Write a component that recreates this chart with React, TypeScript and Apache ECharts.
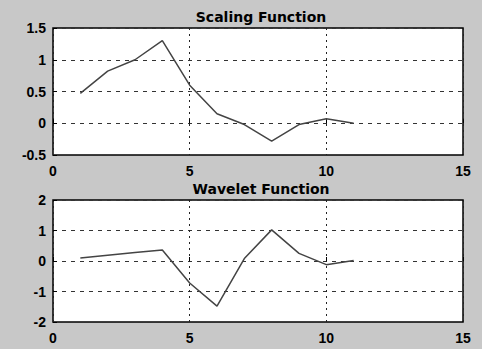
import React, { useEffect, useRef } from "react";
import * as echarts from "echarts";

const xValues = [1, 2, 3, 4, 5, 6, 7, 8, 9, 10, 11];
const scalingValues = [0.47, 0.82, 1.0, 1.3, 0.6, 0.15, -0.02, -0.28, -0.02, 0.07, 0.0];
const waveletValues = [0.1, 0.19, 0.28, 0.36, -0.72, -1.48, 0.08, 1.02, 0.25, -0.12, 0.02];
const titles = ["Scaling Function", "Wavelet Function"];

const font = "'Liberation Sans', Arial, sans-serif";
const titleFont = "'DejaVu Sans', sans-serif";

export default function App() {
  const ref = useRef<HTMLDivElement>(null);
  useEffect(() => {
    document.body.style.margin = "0";
    const chart = echarts.init(ref.current!, null, { renderer: "svg" });
    const xAxisBase = (gridIndex: number) => ({
      type: "value",
      gridIndex,
      min: 0,
      max: 15,
      interval: 5,
      axisLine: { show: false },
      axisTick: { show: true, inside: true, length: 4, lineStyle: { color: "#000" } },
      axisLabel: { color: "#000", fontFamily: font, fontWeight: "bold", fontSize: 14, margin: 9 },
      splitLine: { show: true, lineStyle: { color: "#222", type: [2, 4], width: 1 } },
    });
    const yAxisBase = (gridIndex: number, min: number, max: number, interval: number) => ({
      type: "value",
      gridIndex,
      min,
      max,
      interval,
      axisLine: { show: false },
      axisTick: { show: true, inside: true, length: 4, lineStyle: { color: "#000" } },
      axisLabel: { color: "#000", fontFamily: font, fontWeight: "bold", fontSize: 14, margin: 7 },
      splitLine: { show: true, lineStyle: { color: "#333", type: [4, 5], width: 1 } },
    });
    chart.setOption({
      animation: false,
      backgroundColor: "#c8c8c8",
      title: [
        { text: titles[0], left: 256, top: 5, textAlign: "center",
          textStyle: { fontFamily: titleFont, fontWeight: "bold", fontSize: 14, color: "#000" } },
        { text: titles[1], left: 256, top: 177, textAlign: "center",
          textStyle: { fontFamily: titleFont, fontWeight: "bold", fontSize: 14, color: "#000" } },
      ],
      grid: [
        { left: 53, top: 28, width: 410, height: 127, show: true, backgroundColor: "#fff", borderColor: "#000", borderWidth: 1.5 },
        { left: 53, top: 200, width: 410, height: 122, show: true, backgroundColor: "#fff", borderColor: "#000", borderWidth: 1.5 },
      ],
      xAxis: [xAxisBase(0), xAxisBase(1)],
      yAxis: [yAxisBase(0, -0.5, 1.5, 0.5), yAxisBase(1, -2, 2, 1)],
      series: [
        {
          type: "line", xAxisIndex: 0, yAxisIndex: 0, showSymbol: false,
          data: xValues.map((x, i) => [x, scalingValues[i]]),
          lineStyle: { color: "#444", width: 1.5 },
        },
        {
          type: "line", xAxisIndex: 1, yAxisIndex: 1, showSymbol: false,
          data: xValues.map((x, i) => [x, waveletValues[i]]),
          lineStyle: { color: "#444", width: 1.5 },
        },
      ],
    });
    return () => chart.dispose();
  }, []);
  return <div ref={ref} style={{ width: 482, height: 349 }} />;
}
